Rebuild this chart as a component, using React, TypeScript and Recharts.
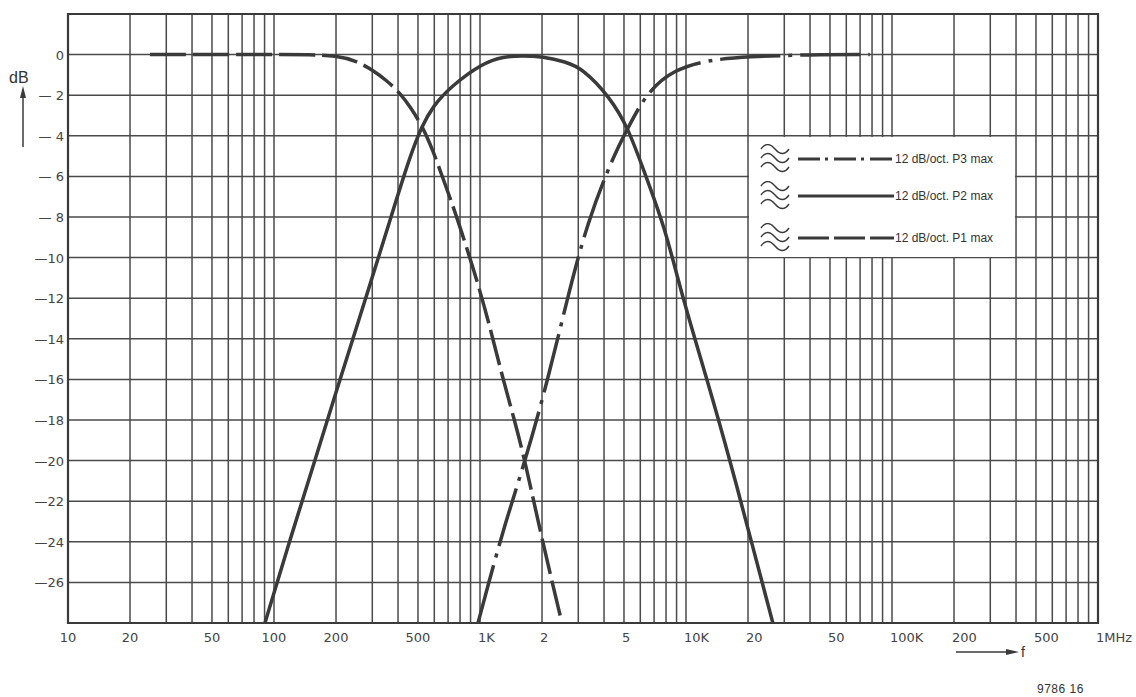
import React from 'react';
import { LineChart, Line, XAxis, YAxis, CartesianGrid, Legend, ReferenceArea } from 'recharts';

// grid frequencies (Hz) – 1-2-3..9 per decade, 10 Hz .. 1 MHz
const gridFreqs = [
  10, 20, 30, 40, 50, 60, 70, 80, 90,
  100, 200, 300, 400, 500, 600, 700, 800, 900,
  1000, 2000, 3000, 4000, 5000, 6000, 7000, 8000, 9000,
  10000, 20000, 30000, 40000, 50000, 60000, 70000, 80000, 90000,
  100000, 200000, 300000, 400000, 500000, 600000, 700000, 800000, 900000,
  1000000,
];
const freqLabels: Record<number, string> = {
  10: '10', 20: '20', 50: '50', 100: '100', 200: '200', 500: '500',
  1000: '1K', 2000: '2', 5000: '5', 10000: '10K', 20000: '20', 50000: '50',
  100000: '100K', 200000: '200', 500000: '500', 1000000: '1MHz',
};

const dbTicks = [2, 0, -2, -4, -6, -8, -10, -12, -14, -16, -18, -20, -22, -24, -26, -28];
const dbLabels: Record<number, string> = {
  0: '0', [-2]: '— 2', [-4]: '— 4', [-6]: '— 6', [-8]: '— 8', [-10]: '—10',
  [-12]: '—12', [-14]: '—14', [-16]: '—16', [-18]: '—18', [-20]: '—20',
  [-22]: '—22', [-24]: '—24', [-26]: '—26',
};

// P1 max – low-pass, dashed
const p1Freq = [25, 50, 100, 150, 200, 250, 300, 350, 410, 460, 523, 590, 661, 730, 800, 967, 1130, 1294, 1470, 1652, 2022, 2500];
const p1Db = [0, 0, 0, 0, -0.05, -0.3, -0.75, -1.25, -1.9, -2.6, -3.5, -4.7, -6.1, -7.3, -8.5, -11.1, -13.6, -16.0, -18.0, -20.0, -24.1, -28];

// P2 max – band-pass, solid
const p2Freq = [90.4, 122, 158, 209, 277, 366, 457, 523, 591, 715, 1035, 1300, 1600, 2020, 2600, 3160, 4276, 5230, 6180, 7900, 9570, 12650, 16370, 20900, 26400];
const p2Db = [-28, -23.6, -20, -16, -12.1, -8.15, -5.0, -3.5, -2.55, -1.6, -0.4, -0.1, -0.05, -0.1, -0.35, -0.7, -2.1, -3.6, -5.6, -8.5, -11.9, -16, -20, -24.1, -28];

// P3 max – high-pass, dash-dot
const p3Freq = [978, 1090, 1322, 1660, 2138, 2640, 3340, 4420, 5230, 6470, 8650, 12650, 20000, 40000, 78000];
const p3Db = [-28, -26.2, -23.1, -20, -16, -12.1, -8.15, -5.05, -3.6, -1.85, -0.76, -0.27, -0.1, 0, 0];

const toPoints = (fs: number[], ds: number[]) => fs.map((f, i) => ({ f, db: ds[i] }));

const ink = '#3a3a3a';
const gridInk = '#4a4a4a';

const series = [
  { key: 'p3', name: '12 dB/oct. P3 max', data: toPoints(p3Freq, p3Db), dash: '60 8 4 8', legendDash: '22 5 3 6' },
  { key: 'p2', name: '12 dB/oct. P2 max', data: toPoints(p2Freq, p2Db), dash: undefined, legendDash: undefined },
  { key: 'p1', name: '12 dB/oct. P1 max', data: toPoints(p1Freq, p1Db), dash: '36 7', legendDash: '31 5' },
];

function FreqTick(props: any) {
  const { x, y, payload } = props;
  const label = freqLabels[payload.value];
  if (!label) return <g />;
  const start = payload.value >= 1000;
  return (
    <text
      x={start ? x - 2 : x}
      y={y + 19}
      textAnchor={start ? 'start' : 'middle'}
      fill="#444"
      fontSize={13}
      fontFamily="DejaVu Sans, sans-serif"
    >
      {label}
    </text>
  );
}

function DbTick(props: any) {
  const { x, y, payload } = props;
  const label = dbLabels[payload.value];
  if (!label) return <g />;
  return (
    <text x={x} y={y + 5} textAnchor="end" fill="#444" fontSize={13} fontFamily="DejaVu Sans, sans-serif">
      {label}
    </text>
  );
}

function Waves() {
  return (
    <svg width={32} height={30}>
      {[5, 14, 23].map((yy) => (
        <path
          key={yy}
          d={`M2,${yy} c4,-6 9,-6 14,0 s10,6 14,0`}
          fill="none"
          stroke={ink}
          strokeWidth={1.4}
        />
      ))}
    </svg>
  );
}

function FilterLegend() {
  const rowTops = [7, 44, 86];
  return (
    <div style={{ position: 'relative', width: '100%', height: '100%', background: '#fff' }}>
      {series.map((s, i) => (
        <div
          key={s.key}
          style={{ position: 'absolute', left: 10, top: rowTops[i], height: 30, display: 'flex', alignItems: 'center' }}
        >
          <Waves />
          <svg width={96} height={6} style={{ marginLeft: 7 }}>
            <line x1={0} y1={3} x2={96} y2={3} stroke={ink} strokeWidth={3} strokeDasharray={s.legendDash} />
          </svg>
          <span style={{ fontSize: 12, color: '#333', fontFamily: '"Liberation Sans", Arial, sans-serif', marginLeft: 1 }}>
            {s.name}
          </span>
        </div>
      ))}
    </div>
  );
}

export default function App() {
  return (
    <div style={{ position: 'absolute', left: 0, top: 0, width: 1136, height: 697, background: '#fff' }}>
      <LineChart width={1136} height={697} margin={{ top: 14, right: 38, bottom: 0, left: 0 }}>
        <CartesianGrid stroke={gridInk} strokeWidth={1.5} />
        <XAxis
          dataKey="f"
          type="number"
          scale="log"
          domain={[10, 1000000]}
          ticks={gridFreqs}
          interval={0}
          allowDataOverflow
          axisLine={false}
          tickLine={false}
          tickSize={0}
          tickMargin={0}
          height={74}
          tick={<FreqTick />}
        />
        <YAxis
          type="number"
          domain={[-28, 2]}
          ticks={dbTicks}
          interval={0}
          allowDataOverflow
          axisLine={false}
          tickLine={false}
          tickSize={0}
          tickMargin={4}
          width={68}
          tick={<DbTick />}
        />
        <ReferenceArea x1={10} x2={1000000} y1={-28} y2={2} fill="none" stroke={ink} strokeWidth={2.2} />
        <Legend
          layout="vertical"
          align="center"
          verticalAlign="middle"
          content={<FilterLegend />}
          wrapperStyle={{ left: 749, top: 137, width: 266, height: 120 }}
        />
        {series.map((s) => (
          <Line
            key={s.key}
            data={s.data}
            dataKey="db"
            name={s.name}
            type="basis"
            stroke={ink}
            strokeWidth={3.5}
            strokeDasharray={s.dash}
            dot={false}
            activeDot={false}
            isAnimationActive={false}
          />
        ))}
      </LineChart>

      {/* axis captions and drawing number */}
      <svg width={1136} height={697} style={{ position: 'absolute', left: 0, top: 0, pointerEvents: 'none' }}>
        <text x={9} y={83} fontSize={16} fill="#333" fontFamily='"Liberation Sans", Arial, sans-serif'>dB</text>
        <line x1={23} y1={147} x2={23} y2={96} stroke={ink} strokeWidth={1.5} />
        <path d="M23,86 L20,98 L26,98 Z" fill={ink} />
        <line x1={956} y1={652} x2={1008} y2={652} stroke={ink} strokeWidth={1.5} />
        <path d="M1019,652 L1006,649 L1006,655 Z" fill={ink} />
        <text x={1021} y={657} fontSize={14} fill="#333" fontFamily='"Liberation Sans", Arial, sans-serif'>f</text>
        <text x={1037} y={693} fontSize={12} fill="#333" fontFamily='"Liberation Sans", Arial, sans-serif' letterSpacing={0.5}>9786 16</text>
      </svg>
    </div>
  );
}
